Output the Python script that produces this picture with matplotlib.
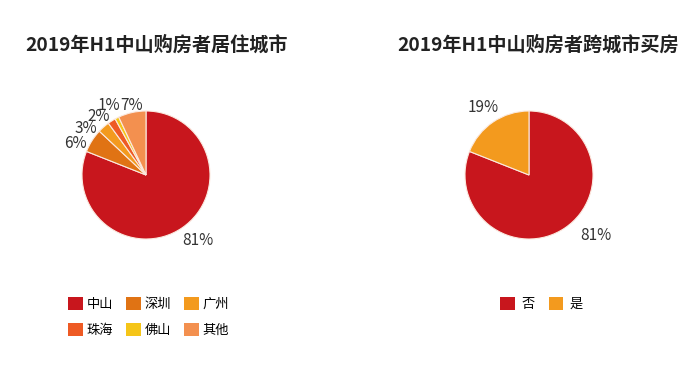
import matplotlib
matplotlib.use("Agg")
import matplotlib.pyplot as plt
from matplotlib.patches import Patch

plt.rcParams['font.family'] = ['Noto Sans CJK SC', 'DejaVu Sans']

# left chart: where buyers live
city_labels = ['中山', '深圳', '广州', '珠海', '佛山', '其他']
city_share = [81, 6, 3, 2, 1, 7]
city_colors = ['#C8161D', '#E07314', '#F39A1E', '#EE5A24', '#F5C518', '#F3904F']

# right chart: cross-city buying
cross_labels = ['否', '是']
cross_share = [81, 19]
cross_colors = ['#C8161D', '#F39A1E']

W, H = 691, 365
fig = plt.figure(figsize=(W / 100, H / 100), dpi=100)


def pie_axes(cx, cy, r=64, lim=1.5):
    size = 2 * lim * r
    return fig.add_axes([(cx - size / 2) / W, (H - cy - size / 2) / H, size / W, size / H])


def draw_pie(ax, values, colors, label_pos):
    wedges, texts = ax.pie(values, colors=colors, startangle=90, counterclock=False,
                           labels=[f'{v}%' for v in values],
                           wedgeprops=dict(edgecolor='#fbe9df', linewidth=0.8),
                           textprops=dict(fontsize=11, color='#333333'))
    # labels sit packed around the rim, as in the source chart
    for t, (x, y, ha) in zip(texts, label_pos):
        t.set_position((x, y))
        t.set_ha(ha)
        t.set_va('center')
    ax.set_xlim(-1.5, 1.5)
    ax.set_ylim(-1.5, 1.5)
    ax.set_aspect('equal')
    ax.axis('off')


ax1 = pie_axes(146, 175)
draw_pie(ax1, city_share, city_colors,
         [(0.56, -1.02, 'left'), (-0.92, 0.5, 'right'), (-0.77, 0.72, 'right'),
          (-0.56, 0.91, 'right'), (-0.41, 1.09, 'right'), (-0.41, 1.09, 'left')])
ax2 = pie_axes(529, 175)
draw_pie(ax2, cross_share, cross_colors,
         [(0.8, -0.94, 'left'), (-0.48, 1.06, 'right')])

# titles
fig.text(25 / W, 1 - 45 / H, '2019年H1中山购房者居住城市', fontsize=13.8,
         fontweight='bold', color='#222222', ha='left', va='center')
fig.text(397 / W, 1 - 45 / H, '2019年H1中山购房者跨城市买房', fontsize=13.8,
         fontweight='bold', color='#222222', ha='left', va='center')

# legends (row-major order, matplotlib fills columns first)
leg_kw = dict(loc='upper left', frameon=False, fontsize=9.5, handlelength=1.1,
              handleheight=1.1, borderpad=0, borderaxespad=0)
order = [0, 3, 1, 4, 2, 5]
h1 = [Patch(facecolor=city_colors[i], label=city_labels[i]) for i in order]
fig.legend(handles=h1, ncol=3, bbox_to_anchor=(68 / W, 1 - 297 / H),
           handletextpad=0.3, columnspacing=1.0, labelspacing=0.95, **leg_kw)
h2 = [Patch(facecolor=c, label=l) for l, c in zip(cross_labels, cross_colors)]
fig.legend(handles=h2, ncol=2, bbox_to_anchor=(500 / W, 1 - 297 / H),
           handletextpad=0.5, columnspacing=1.1, **leg_kw)

fig.savefig('out.png', dpi=100)
